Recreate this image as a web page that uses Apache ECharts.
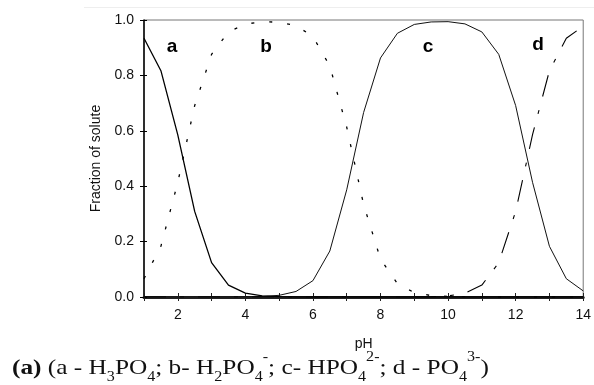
<!DOCTYPE html>
<html>
<head>
<meta charset="utf-8">
<script src="https://cdn.jsdelivr.net/npm/echarts@6/dist/echarts.min.js"></script>
<style>
html,body{margin:0;padding:0;background:#fff;}
#c{width:594px;height:385px;}
</style>
</head>
<body>
<div id="c"></div>
<script>
// pH grid
const pH = [1,1.5,2,2.5,3,3.5,4,4.5,5,5.5,6,6.5,7,7.5,8,8.5,9,9.5,10,10.5,11,11.5,12,12.5,13,13.5,14];
// a - H3PO4
const seriesA = [0.934,0.817,0.585,0.309,0.124,0.043,0.014,0.004,0.001,0,0,0,0,0,0,0,0,0,0,0,0,0,0,0,0,0,0];
// b - H2PO4-
const seriesB = [0.066,0.183,0.414,0.691,0.876,0.957,0.985,0.994,0.992,0.980,0.940,0.834,0.613,0.334,0.137,0.048,0.016,0.005,0.002,0.001,0,0,0,0,0,0,0];
// c - HPO4 2-
const seriesC = [0,0,0,0,0,0,0.001,0.002,0.006,0.020,0.059,0.166,0.387,0.666,0.863,0.952,0.984,0.993,0.994,0.986,0.957,0.876,0.691,0.414,0.183,0.066,0.022];
// d - PO4 3-
const seriesD = [0,0,0,0,0,0,0,0,0,0,0,0,0,0,0,0,0,0.001,0.004,0.014,0.043,0.124,0.309,0.586,0.817,0.934,0.978];
const xTickLabels = ['2','4','6','8','10','12','14'];
const curveLabels = ['a','b','c','d'];

function pairs(ys){ return pH.map((x,i)=>[x,ys[i]]); }

const chart = echarts.init(document.getElementById('c'), null, {renderer:'canvas'});
const font = 'Liberation Sans, Arial, sans-serif';
const serif = 'Liberation Serif, Times New Roman, serif';
const labelPos = [[172,56],[266,56],[428,56],[538,54]];

chart.setOption({
  animation:false,
  grid:{left:144,right:9,top:20,bottom:88,show:true,borderColor:'#777',borderWidth:1,backgroundColor:'transparent'},
  xAxis:[{
    type:'value',min:1,max:14,interval:1,position:'bottom',
    name:'pH',nameLocation:'middle',nameGap:40,
    nameTextStyle:{fontFamily:font,fontSize:14,color:'#111'},
    axisLine:{show:true,onZero:false,lineStyle:{color:'#222',width:3}},
    axisTick:{show:true,length:4,lineStyle:{color:'#222',width:1}},
    axisLabel:{margin:11,fontFamily:font,fontSize:14,color:'#111',
      formatter:v=>xTickLabels.indexOf(String(v))>=0?String(v):''},
    splitLine:{show:false}
  },{
    type:'value',min:1,max:14,interval:1,position:'bottom',
    axisLine:{show:false},axisTick:{show:true,inside:true,length:4,lineStyle:{color:'#222',width:1}},
    axisLabel:{show:false},splitLine:{show:false}
  }],
  yAxis:[{
    type:'value',min:0,max:1,interval:0.2,
    name:'Fraction of solute',nameLocation:'middle',nameGap:32,nameRotate:90,
    nameTextStyle:{fontFamily:font,fontSize:14,color:'#111'},
    axisLine:{show:true,onZero:false,lineStyle:{color:'#000',width:1.5}},
    axisTick:{show:true,length:4,lineStyle:{color:'#000',width:1}},
    axisLabel:{margin:10,fontFamily:font,fontSize:14,color:'#111',formatter:v=>v.toFixed(1)},
    splitLine:{show:false}
  },{
    type:'value',min:0,max:1,interval:0.2,position:'left',
    axisLine:{show:false},axisTick:{show:true,inside:true,length:3,lineStyle:{color:'#000',width:1}},
    axisLabel:{show:false},splitLine:{show:false}
  }],
  series:[
    {type:'line',data:pairs(seriesA),showSymbol:false,symbol:'none',lineStyle:{color:'#000',width:1.3,type:'solid'}},
    {type:'line',data:pairs(seriesB),showSymbol:false,symbol:'none',lineStyle:{color:'#000',width:1.3,type:[3,15]}},
    {type:'line',data:pairs(seriesC),showSymbol:false,symbol:'none',lineStyle:{color:'#111',width:1,type:'solid'}},
    {type:'line',data:pairs(seriesD),showSymbol:false,symbol:'none',lineStyle:{color:'#000',width:1.1,type:[22,14,4,14]}}
  ],
  graphic:[
    {type:'line',shape:{x1:84,y1:7.5,x2:594,y2:7.5},style:{stroke:'#eeeeee',lineWidth:1},silent:true},
    ...curveLabels.map((t,i)=>({type:'text',x:labelPos[i][0],y:labelPos[i][1],
      style:{text:t,fontFamily:font,fontWeight:'bold',fontSize:19,fill:'#000',textAlign:'center',textVerticalAlign:'bottom'}})),
    {type:'text',x:12,y:343,scaleX:1.15,
      style:{
        text:'{bd|(a)}{n| (a - H}{sb|3}{n|PO}{sb|4}{n|; b- H}{sb|2}{n|PO}{sb|4}{sp|-}{n|; c- HPO}{sb|4}{sp|2-}{n|; d - PO}{sb|4}{sp|3-}{n|)}',
        rich:{
          bd:{fontFamily:serif,fontSize:22,fontWeight:'bold',fill:'#111',lineHeight:50,verticalAlign:'middle'},
          n:{fontFamily:serif,fontSize:22,fill:'#111',lineHeight:50,verticalAlign:'middle'},
          sb:{fontFamily:serif,fontSize:14,fill:'#111',lineHeight:14,verticalAlign:'bottom',padding:[0,0,9,0]},
          sp:{fontFamily:serif,fontSize:14,fill:'#111',lineHeight:14,verticalAlign:'top',padding:[7,0,0,0]}
        }
      }}
  ]
});
</script>
</body>
</html>
